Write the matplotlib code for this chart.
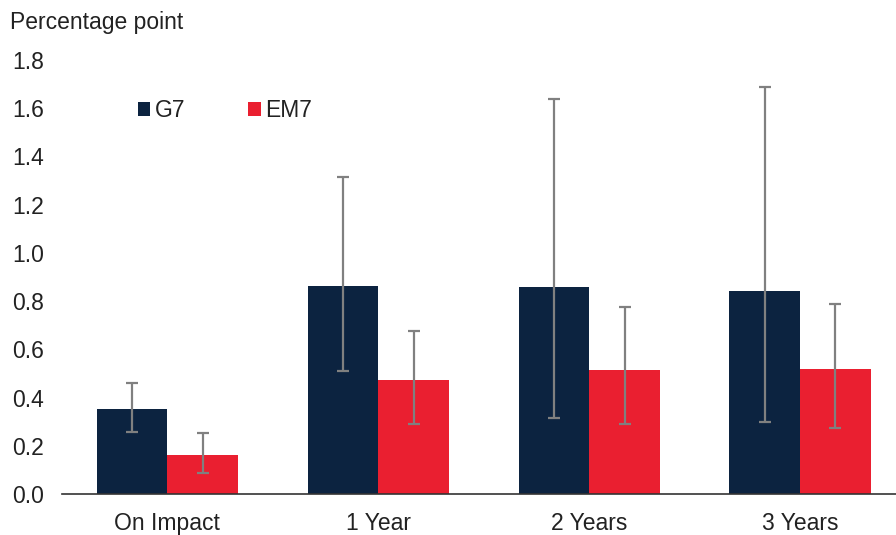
import numpy as np
import matplotlib.pyplot as plt

plt.rcParams['font.family'] = ['Liberation Sans', 'DejaVu Sans']

categories = ["On Impact", "1 Year", "2 Years", "3 Years"]
g7 = [0.354, 0.861, 0.857, 0.843]
g7_low = [0.257, 0.511, 0.315, 0.299]
g7_high = [0.462, 1.313, 1.640, 1.688]
em7 = [0.163, 0.471, 0.514, 0.517]
em7_low = [0.086, 0.290, 0.290, 0.274]
em7_high = [0.254, 0.676, 0.776, 0.788]

navy = "#0c2340"
red = "#ea1f30"
grey = "#808080"

fig = plt.figure(figsize=(8.96, 5.35), dpi=100)
ax = fig.add_axes([62/896, 41/535, (896-62)/896, 434/535])

x = np.arange(len(categories))
w = 0.335

def errs(v, lo, hi):
    v = np.array(v); return [v - np.array(lo), np.array(hi) - v]

ax.bar(x - w/2, g7, w, color=navy, label="G7", zorder=2)
ax.bar(x + w/2, em7, w, color=red, label="EM7", zorder=2)
ax.errorbar(x - w/2, g7, yerr=errs(g7, g7_low, g7_high), fmt="none",
            ecolor=grey, elinewidth=1.6, capsize=4.2, capthick=1.6, zorder=3)
ax.errorbar(x + w/2, em7, yerr=errs(em7, em7_low, em7_high), fmt="none",
            ecolor=grey, elinewidth=1.6, capsize=4.2, capthick=1.6, zorder=3)

ax.set_ylim(0, 1.8)
ax.set_xlim(-0.5, 3 + 96/211)
ax.set_yticks(np.arange(0, 1.81, 0.2))
ax.set_yticklabels([f"{v:.1f}" for v in np.arange(0, 1.81, 0.2)])
ax.set_xticks(x)
ax.set_xticklabels(categories)
ax.tick_params(length=0, labelsize=16.5, colors="#222222")
ax.tick_params(axis="x", pad=13)
ax.tick_params(axis="y", pad=13)
for s in ["top", "right", "left"]:
    ax.spines[s].set_visible(False)
ax.spines["bottom"].set_color("#333333")
ax.spines["bottom"].set_linewidth(1.2)

fig.text(10/896, 1 - 22/535, "Percentage point", fontsize=16.5, color="#222222",
         ha="left", va="center")

ax.legend(loc="upper left", bbox_to_anchor=(0.066, 0.958), ncol=2, frameon=False,
          fontsize=16.5, handlelength=0.55, handleheight=0.55, handletextpad=0.2,
          columnspacing=2.75, labelcolor="#222222")

fig.savefig("out.png", dpi=100)
